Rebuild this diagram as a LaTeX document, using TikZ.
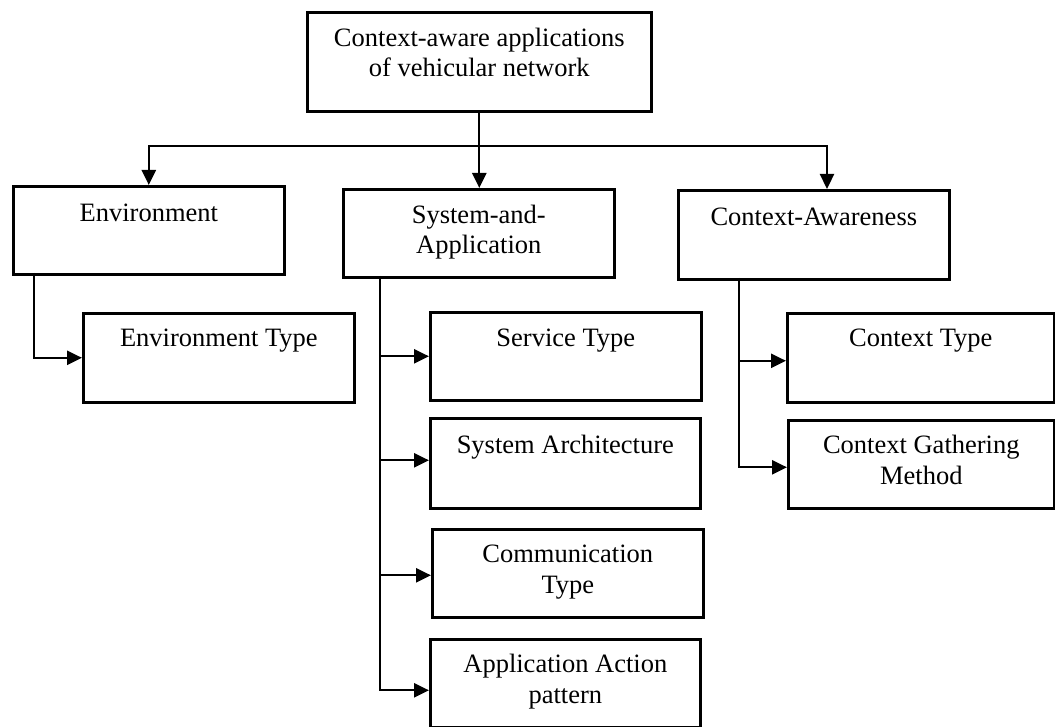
\documentclass[tikz,border=0pt]{standalone}
\usepackage{fontspec}
\setmainfont{Liberation Serif}
\usetikzlibrary{arrows.meta}
\begin{document}
\begin{tikzpicture}[x=1pt,y=-1pt,
  box/.style={draw, line width=2.6pt, anchor=north west, inner sep=0pt},
  txt/.style={anchor=base, align=center, inner sep=0pt, font=\fontsize{26.5}{30.5}\selectfont},
  conn/.style={line width=2.3pt},
  arr/.style={conn, -{Triangle[length=15pt,width=14pt]}},
  darr/.style={conn, {Triangle[length=15pt,width=14pt]}-{Triangle[length=15pt,width=14pt]}}
]
\useasboundingbox[fill=white] (0,0) rectangle (1055,727);
% boxes
\node[box, minimum width=344pt, minimum height=99pt] (top) at (306,11) {};
\node[box, minimum width=271pt, minimum height=88pt] (env) at (12,185) {};
\node[box, minimum width=271pt, minimum height=88pt] (sys) at (342,188) {};
\node[box, minimum width=271pt, minimum height=89pt] (ca) at (677,189) {};
\node[box, minimum width=271pt, minimum height=89pt] (envtype) at (82,312) {};
\node[box, minimum width=271pt, minimum height=88pt] (service) at (429,311) {};
\node[box, minimum width=270pt, minimum height=90pt] (sysarch) at (429,417) {};
\node[box, minimum width=271pt, minimum height=88pt] (comm) at (431,528) {};
\node[box, minimum width=270pt, minimum height=88pt] (appact) at (429,638) {};
\node[box, minimum width=267pt, minimum height=89pt] (ctxtype) at (786,312) {};
\node[box, minimum width=266pt, minimum height=88pt] (ctxgather) at (787,419) {};
% texts
\node[txt] (topL) at ([yshift=-66pt]top.north) {Context-aware applications\\of vehicular network};
\node[txt] (envL) at ([yshift=-37pt]env.north) {Environment};
\node[txt] (sysL) at ([yshift=-66pt]sys.north) {System-and-\\Application};
\node[txt] (caL) at ([yshift=-37pt]ca.north) {Context-Awareness};
\node[txt] (envtypeL) at ([yshift=-35pt]envtype.north) {Environment Type};
\node[txt] (serviceL) at ([yshift=-35pt]service.north) {Service Type};
\node[txt] (sysarchL) at ([yshift=-36pt]sysarch.north) {System Architecture};
\node[txt] (commL) at ([yshift=-65pt]comm.north) {Communication\\Type};
\node[txt] (appactL) at ([yshift=-65pt]appact.north) {Application Action\\pattern};
\node[txt] (ctxtypeL) at ([yshift=-35pt]ctxtype.north) {Context Type};
\node[txt] (ctxgatherL) at ([yshift=-65pt]ctxgather.north) {Context Gathering\\Method};
% bus
\coordinate (busR) at (827,146);
\coordinate (envT) at (34,273);
\coordinate (sysT) at (380,276);
\coordinate (caT) at (739,278);
\draw[arr] (top.south) -- (top.south |- sys.north);
\draw[darr] (env.north) -- (env.north |- busR) -- (busR) -- (busR |- ca.north);
% environment
\draw[arr] (envT) |- (envtype.west);
% system-and-application
\draw[arr] (sysT) |- ([yshift=-7pt]appact.west);
\draw[arr] (sysT |- service.west) -- (service.west);
\draw[arr] ([yshift=3pt]sysT |- sysarch.west) -- ([yshift=3pt]sysarch.west);
\draw[arr] ([yshift=-2pt]sysT |- comm.west) -- ([yshift=-2pt]comm.west);
% context-awareness
\draw[arr] (caT) |- ([yshift=-3pt]ctxgather.west);
\draw[arr] ([yshift=-3pt]caT |- ctxtype.west) -- ([yshift=-3pt]ctxtype.west);
\end{tikzpicture}
\end{document}
